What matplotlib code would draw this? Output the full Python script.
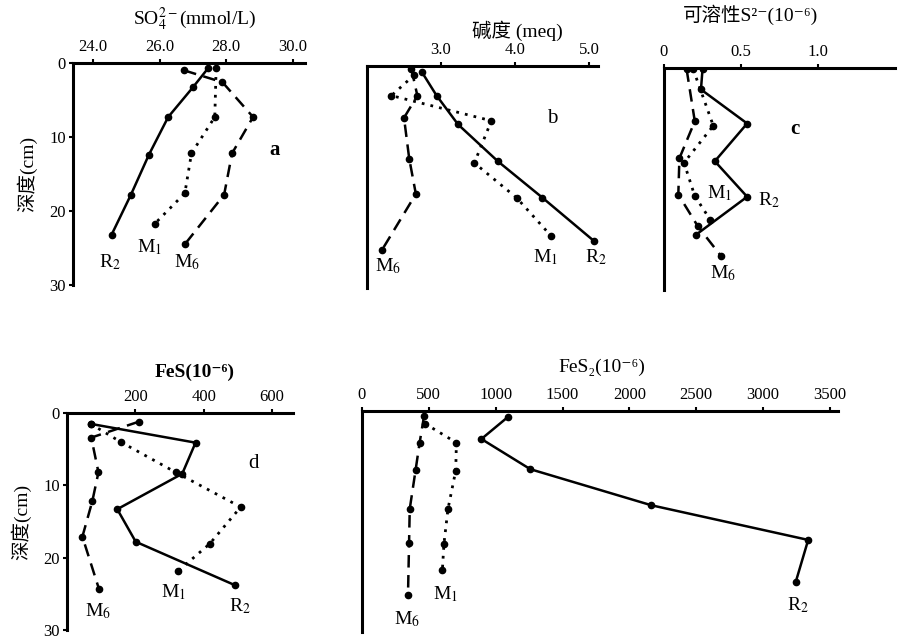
import matplotlib
matplotlib.use("Agg")
import matplotlib.pyplot as plt

plt.rcParams['font.family'] = ['Liberation Serif', 'Noto Sans CJK SC', 'DejaVu Serif']
plt.rcParams['mathtext.fontset'] = 'stix'

# depth (cm) and values
# a: SO4 2- (mmol/L)
a_R2 = [27.46, 27.0, 26.26, 25.68, 25.14, 24.56]
a_R2_d = [0.7, 3.3, 7.3, 12.4, 17.8, 23.2]
a_M1 = [27.7, 27.66, 26.96, 26.76, 25.86]
a_M1_d = [0.7, 7.3, 12.2, 17.6, 21.7]
a_M6 = [26.74, 27.89, 28.81, 28.18, 27.94, 26.76]
a_M6_d = [1.0, 2.6, 7.3, 12.2, 17.8, 24.5]

# b: alkalinity (meq)
b_R2 = [2.74, 2.94, 3.23, 3.77, 4.37, 5.06]
b_R2_d = [0.8, 4.0, 7.9, 12.9, 17.8, 23.6]
b_M1 = [2.64, 2.33, 3.68, 3.45, 4.02, 4.49]
b_M1_d = [1.2, 4.0, 7.4, 13.1, 17.8, 23.0]
b_M6 = [2.60, 2.68, 2.50, 2.57, 2.66, 2.20]
b_M6_d = [0.4, 4.0, 7.0, 12.5, 17.3, 24.9]

# c: soluble S2- (1e-6)
c_R2 = [0.25, 0.24, 0.54, 0.33, 0.54, 0.21]
c_R2_d = [0.2, 2.9, 7.5, 12.6, 17.4, 22.5]
c_M1 = [0.19, 0.32, 0.13, 0.20, 0.30]
c_M1_d = [0.2, 7.8, 12.8, 17.3, 20.5]
c_M6 = [0.147, 0.20, 0.10, 0.093, 0.22, 0.37]
c_M6_d = [0.2, 7.2, 12.2, 17.1, 21.4, 25.4]

# d: FeS (1e-6)
d_R2 = [69, 376, 337, 147, 201, 491]
d_R2_d = [1.5, 4.1, 8.4, 13.3, 17.8, 23.8]
d_M1 = [69, 157, 318, 508, 417, 326]
d_M1_d = [1.5, 4.0, 8.2, 13.0, 18.1, 21.8]
d_M6 = [210, 71, 92, 74, 45, 94]
d_M6_d = [1.2, 3.4, 8.2, 12.2, 17.1, 24.4]

# e: FeS2 (1e-6)
e_R2 = [1092, 893, 1259, 2165, 3337, 3244]
e_R2_d = [0.8, 3.8, 7.9, 12.8, 17.5, 23.2]
e_M1 = [470, 706, 701, 643, 613, 601]
e_M1_d = [1.7, 4.3, 8.1, 13.3, 18.0, 21.6]
e_M6 = [464, 431, 401, 357, 352, 344]
e_M6_d = [0.7, 4.3, 8.0, 13.3, 17.9, 25.0]

depth_ticks = [0, 10, 20, 30]

W, H = 898, 639
fig = plt.figure(figsize=(W / 100, H / 100), dpi=100)


def px_axes(left, top, right, bottom):
    return fig.add_axes([left / W, 1 - bottom / H, (right - left) / W, (bottom - top) / H])


def style(ax, xlim, xticks, xlabels, ylabels=False):
    ax.set_xlim(*xlim)
    ax.set_ylim(30, 0)
    ax.xaxis.tick_top()
    ax.set_xticks(xticks)
    ax.set_xticklabels(xlabels, fontsize=12)
    ax.tick_params(axis='x', direction='out', length=3, width=1.5, pad=3)
    for s in ['right', 'bottom']:
        ax.spines[s].set_visible(False)
    for s in ['top', 'left']:
        ax.spines[s].set_linewidth(2.2)
    if ylabels:
        ax.set_yticks(depth_ticks)
        ax.set_yticklabels([str(t) for t in depth_ticks], fontsize=12)
        ax.tick_params(axis='y', direction='out', length=3, width=1.5, pad=2)
        ax.set_ylabel('深度(cm)', fontsize=14, labelpad=9)
    else:
        ax.set_yticks([])
    ax.patch.set_alpha(0)


def title(x, y, txt, bold=False):
    fig.text(x / W, 1 - y / H, txt, fontsize=14, ha='center', va='center',
             fontweight='bold' if bold else 'normal')


def profiles(ax, R2, R2d, M1, M1d, M6, M6d):
    kw = dict(color='black', marker='o', markersize=4.5)
    ax.plot(R2, R2d, linestyle='-', linewidth=1.8, **kw)
    ax.plot(M1, M1d, linestyle=(0, (1, 2.2)), linewidth=2, **kw)
    ax.plot(M6, M6d, linestyle=(0, (5, 3)), linewidth=1.8, **kw)


def names(ax, pos):
    for txt, (x, y) in pos.items():
        ax.text(x, y, txt, fontsize=14, ha='center', va='center')


# panel a
ax = px_axes(73, 63, 305, 285)
profiles(ax, a_R2, a_R2_d, a_M1, a_M1_d, a_M6, a_M6_d)
style(ax, (23.4, 30.37), [24, 26, 28, 30], ['24.0', '26.0', '28.0', '30.0'], ylabels=True)
title(195, 19, 'SO$_4^{2-}$(mmol/L)')
names(ax, {'R$_2$': (24.51, 26.9), 'M$_1$': (25.71, 24.9), 'M$_6$': (26.82, 26.9)})
ax.text(29.47, 11.8, 'a', fontsize=15, ha='center', va='center', fontweight='bold')

# panel b
ax = px_axes(367, 66, 598, 288)
profiles(ax, b_R2, b_R2_d, b_M1, b_M1_d, b_M6, b_M6_d)
style(ax, (2.0, 5.12), [3, 4, 5], ['3.0', '4.0', '5.0'])
title(517, 31, '碱度 (meq)')
names(ax, {'M$_6$': (2.29, 27.1), 'M$_1$': (4.41, 25.8), 'R$_2$': (5.09, 25.8)})
ax.text(4.50, 7.1, 'b', fontsize=15, ha='center', va='center')

# panel c
ax = px_axes(664, 68, 895, 290)
profiles(ax, c_R2, c_R2_d, c_M1, c_M1_d, c_M6, c_M6_d)
style(ax, (0, 1.5), [0, 0.5, 1.0], ['0', '0.5', '1.0'])
title(750, 15, '可溶性S²⁻(10⁻⁶)')
names(ax, {'M$_1$': (0.36, 16.9), 'R$_2$': (0.68, 17.8), 'M$_6$': (0.385, 27.7)})
ax.text(0.85, 8.3, 'c', fontsize=15, ha='center', va='center', fontweight='bold')

# panel d
ax = px_axes(67, 413, 293, 630)
profiles(ax, d_R2, d_R2_d, d_M1, d_M1_d, d_M6, d_M6_d)
style(ax, (0, 661), [200, 400, 600], ['200', '400', '600'], ylabels=True)
title(195, 372, 'FeS(10⁻⁶)', bold=True)
names(ax, {'M$_6$': (92, 27.4), 'M$_1$': (311, 24.7), 'R$_2$': (506, 26.7)})
ax.text(545, 7.0, 'd', fontsize=15, ha='center', va='center')

# panel e
ax = px_axes(362, 411, 838, 632)
profiles(ax, e_R2, e_R2_d, e_M1, e_M1_d, e_M6, e_M6_d)
e_ticks = [0, 500, 1000, 1500, 2000, 2500, 3000, 3500]
style(ax, (0, 3560), e_ticks, [str(t) for t in e_ticks])
title(602, 367, 'FeS₂(10⁻⁶)')
names(ax, {'M$_6$': (334, 28.3), 'M$_1$': (621, 24.8), 'R$_2$': (3263, 26.3)})

fig.savefig('out.png', dpi=100)
